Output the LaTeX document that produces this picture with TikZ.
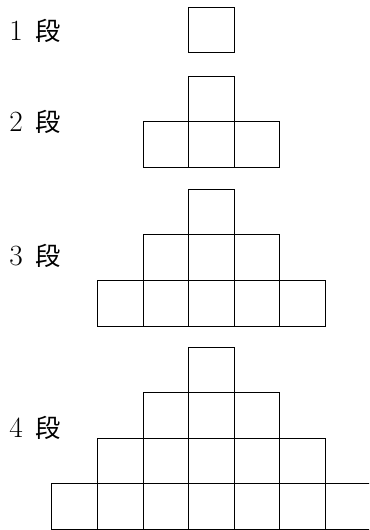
\documentclass[tikz,border=0pt]{standalone}
\usepackage{fontspec}
\newfontfamily\jpfont{Noto Sans CJK JP}
\usetikzlibrary{positioning}
\tikzset{
  masu/.style={draw=black,line width=0.8pt,minimum size=34.2pt,inner sep=0pt,outer sep=0pt},
  dan/.style={anchor=west,inner sep=0pt,font=\fontsize{22}{26}\selectfont},
}
\newcommand{\dannum}[1]{#1\hspace{0.45em}{\jpfont\fontsize{19}{22}\selectfont 段}}

\begin{document}
\begin{tikzpicture}[x=0.75pt,y=-0.75pt]
  \useasboundingbox (0,0) rectangle (369,530);
  \clip (0,0) rectangle (369,530);

  % labels
  \node[dan] (d1) at (9,31) {\dannum{1}};
  \node[dan] (d2) at (9,122) {\dannum{2}};
  \node[dan] (d3) at (9,256) {\dannum{3}};
  \node[dan] (d4) at (9,428) {\dannum{4}};

  % stages: number / top edge
  \foreach \n/\top in {1/7.3,2/76.3,3/189.3,4/347.1} {
    \foreach \k in {1,...,\n} {
      \pgfmathtruncatemacro{\last}{\k-1}
      \foreach \i in {-\last,...,\last} {
        \node[masu] (s\n-\k-\i) at ({211.5+45.6*\i},{\top+45.6*(\k-0.5)}) {};
      }
    }
  }
\end{tikzpicture}
\end{document}
